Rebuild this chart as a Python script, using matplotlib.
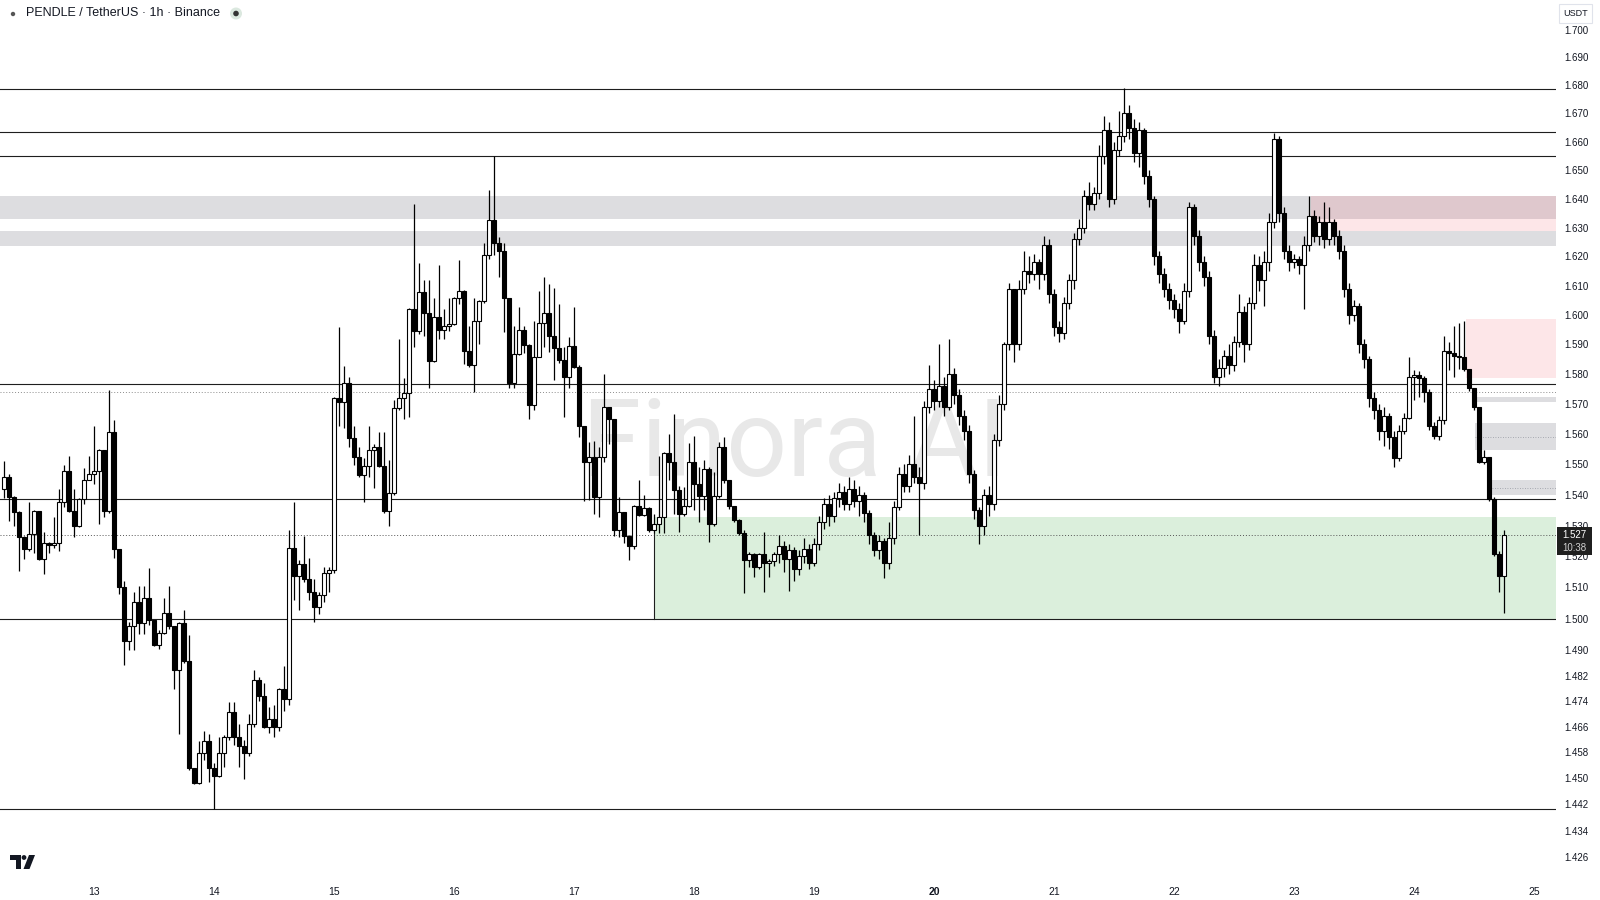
import numpy as np
import matplotlib
matplotlib.use("Agg")
import matplotlib.pyplot as plt
from matplotlib.patches import Rectangle, Ellipse, Polygon
from matplotlib.ticker import FixedLocator, FixedFormatter, NullLocator

plt.rcParams['font.family'] = ['Liberation Sans', 'DejaVu Sans']

# PENDLE / USDT, 1h candles, 12th 06:00 -> 24th 18:00
first_open = 1.542
close = [
    1.546, 1.5393, 1.5344, 1.5263, 1.5225, 1.5272, 1.5346, 1.519, 1.5243, 1.5237,
    1.5243, 1.5376, 1.5478, 1.5346, 1.5297, 1.5387, 1.5448, 1.5467, 1.5478, 1.5547,
    1.5346, 1.5607, 1.5225, 1.510, 1.493, 1.4976, 1.5053, 1.4987, 1.5066, 1.4997,
    1.4916, 1.4955, 1.5017, 1.4976, 1.4838, 1.4987, 1.4866, 1.4533, 1.4486, 1.4577,
    1.4615, 1.4533, 1.4506, 1.4577, 1.4627, 1.4706, 1.4627, 1.4600, 1.4577, 1.4668,
    1.4806, 1.4756, 1.4658, 1.4685, 1.4658, 1.4777, 1.4746, 1.5228, 1.5137, 1.5175,
    1.5126, 1.5086, 1.5036, 1.5077, 1.5147, 1.5157, 1.5719, 1.5707, 1.5769, 1.5587,
    1.5524, 1.5464, 1.5495, 1.5547, 1.5557, 1.5495, 1.5346, 1.5406, 1.5687, 1.5719,
    1.5738, 1.6019, 1.5947, 1.6079, 1.6007, 1.5845, 1.5992, 1.5949, 1.5961, 1.5971,
    1.6059, 1.6081, 1.5878, 1.5830, 1.5981, 1.6046, 1.6204, 1.6325, 1.6246, 1.6218,
    1.6059, 1.5769, 1.5869, 1.5949, 1.5898, 1.5696, 1.5859, 1.5972, 1.6007, 1.5928,
    1.5887, 1.5848, 1.5789, 1.5894, 1.5823, 1.5627, 1.5508, 1.5525, 1.5393, 1.5525,
    1.5689, 1.5649, 1.5286, 1.5344, 1.5265, 1.5233, 1.5365, 1.5335, 1.5357, 1.5284,
    1.5306, 1.5327, 1.5538, 1.5508, 1.5417, 1.5339, 1.5362, 1.5508, 1.5437, 1.5395,
    1.5486, 1.5304, 1.5395, 1.5557, 1.5448, 1.5362, 1.5317, 1.5275, 1.5188, 1.5207,
    1.5167, 1.5207, 1.5178, 1.5185, 1.5207, 1.5235, 1.519, 1.522, 1.516, 1.520,
    1.5225, 1.518, 1.524, 1.531, 1.537, 1.533, 1.539, 1.541, 1.537, 1.542,
    1.538, 1.540, 1.534, 1.527, 1.522, 1.525, 1.518, 1.526, 1.536, 1.547,
    1.543, 1.550, 1.546, 1.544, 1.569, 1.575, 1.571, 1.576, 1.569, 1.580,
    1.573, 1.566, 1.561, 1.547, 1.535, 1.530, 1.540, 1.537, 1.558, 1.570,
    1.590, 1.609, 1.590, 1.609, 1.615, 1.614, 1.618, 1.614, 1.624, 1.607,
    1.596, 1.594, 1.604, 1.612, 1.626, 1.630, 1.641, 1.638, 1.642, 1.655,
    1.664, 1.640, 1.657, 1.662, 1.670, 1.665, 1.656, 1.664, 1.648, 1.640,
    1.620, 1.614, 1.609, 1.605, 1.602, 1.598, 1.608, 1.637, 1.627, 1.618,
    1.613, 1.593, 1.579, 1.582, 1.586, 1.583, 1.591, 1.601, 1.590, 1.604,
    1.617, 1.612, 1.618, 1.632, 1.661, 1.635, 1.622, 1.618, 1.619, 1.617,
    1.624, 1.634, 1.627, 1.632, 1.626, 1.632, 1.627, 1.622, 1.609, 1.600,
    1.603, 1.590, 1.585, 1.572, 1.568, 1.561, 1.566, 1.559, 1.552, 1.561,
    1.5654, 1.5790, 1.5797, 1.5788, 1.5741, 1.5627, 1.5594, 1.5647, 1.5877, 1.5870,
    1.5862, 1.5858, 1.5817, 1.5752, 1.5689, 1.5508, 1.5524, 1.5388, 1.5207, 1.5136,
    1.527,
]
high = [
    1.551, 1.547, 1.5395, 1.5346, 1.5265, 1.5377, 1.535, 1.5346, 1.528, 1.5245,
    1.5327, 1.5418, 1.5498, 1.5527, 1.5418, 1.539, 1.5487, 1.5527, 1.5626, 1.555,
    1.5547, 1.5747, 1.5648, 1.5225, 1.512, 1.499, 1.5085, 1.5106, 1.5106, 1.5164,
    1.4997, 1.4963, 1.5066, 1.5106, 1.4976, 1.4990, 1.5027, 1.4947, 1.4533, 1.4615,
    1.4646, 1.4637, 1.4546, 1.4627, 1.4634, 1.4736, 1.4736, 1.4668, 1.4619, 1.4699,
    1.4838, 1.4816, 1.4796, 1.4722, 1.4727, 1.4780, 1.4849, 1.5287, 1.5377, 1.5188,
    1.5265, 1.5196, 1.5126, 1.5086, 1.5167, 1.5167, 1.5722, 1.5960, 1.5828, 1.5790,
    1.5627, 1.5557, 1.5520, 1.5627, 1.5568, 1.5607, 1.5607, 1.5514, 1.5713, 1.5918,
    1.5788, 1.6025, 1.6381, 1.6179, 1.6120, 1.6120, 1.6059, 1.6170, 1.6019, 1.6059,
    1.6062, 1.6188, 1.6085, 1.5961, 1.6059, 1.6050, 1.6246, 1.6430, 1.6548, 1.6267,
    1.6246, 1.6049, 1.5961, 1.6028, 1.5961, 1.5900, 1.5981, 1.6081, 1.6128, 1.6105,
    1.6092, 1.6038, 1.5891, 1.5926, 1.6026, 1.5830, 1.5627, 1.5574, 1.5578, 1.5557,
    1.5800, 1.5690, 1.5650, 1.5393, 1.5344, 1.5270, 1.5368, 1.5448, 1.5400, 1.5360,
    1.5339, 1.5527, 1.5540, 1.5602, 1.5668, 1.5428, 1.5426, 1.5571, 1.5593, 1.5492,
    1.5516, 1.5490, 1.5476, 1.5574, 1.5591, 1.5450, 1.5365, 1.5320, 1.5286, 1.5215,
    1.5210, 1.5210, 1.5278, 1.5190, 1.5215, 1.527, 1.525, 1.524, 1.523, 1.522,
    1.526, 1.524, 1.526, 1.533, 1.539, 1.540, 1.541, 1.544, 1.543, 1.546,
    1.545, 1.543, 1.541, 1.535, 1.528, 1.527, 1.526, 1.531, 1.538, 1.549,
    1.550, 1.553, 1.566, 1.549, 1.571, 1.583, 1.578, 1.590, 1.579, 1.592,
    1.582, 1.575, 1.568, 1.563, 1.548, 1.536, 1.542, 1.543, 1.560, 1.573,
    1.591, 1.611, 1.608, 1.612, 1.622, 1.620, 1.621, 1.619, 1.627, 1.626,
    1.609, 1.598, 1.606, 1.614, 1.628, 1.633, 1.643, 1.646, 1.644, 1.659,
    1.669, 1.667, 1.660, 1.671, 1.679, 1.673, 1.668, 1.667, 1.665, 1.650,
    1.641, 1.622, 1.616, 1.611, 1.607, 1.604, 1.611, 1.639, 1.638, 1.629,
    1.620, 1.615, 1.595, 1.585, 1.588, 1.590, 1.593, 1.607, 1.603, 1.606,
    1.621, 1.620, 1.622, 1.635, 1.663, 1.662, 1.637, 1.624, 1.621, 1.620,
    1.627, 1.641, 1.636, 1.634, 1.639, 1.637, 1.633, 1.629, 1.624, 1.611,
    1.605, 1.604, 1.592, 1.586, 1.574, 1.570, 1.569, 1.567, 1.561, 1.563,
    1.567, 1.5859, 1.5814, 1.5810, 1.5795, 1.575, 1.564, 1.566, 1.5928, 1.5909,
    1.5961, 1.5972, 1.5981, 1.5815, 1.5755, 1.569, 1.5547, 1.5525, 1.5392, 1.5217,
    1.5285,
]
low = [
    1.539, 1.5316, 1.530, 1.5154, 1.519, 1.5217, 1.5212, 1.5187, 1.5142, 1.5212,
    1.5228, 1.5217, 1.536, 1.5344, 1.5264, 1.5295, 1.5371, 1.5452, 1.5437, 1.5305,
    1.5327, 1.5340, 1.5195, 1.508, 1.4853, 1.490, 1.490, 1.495, 1.495, 1.498,
    1.4913, 1.4905, 1.4950, 1.4966, 1.4778, 1.4637, 1.4860, 1.4525, 1.4484, 1.4484,
    1.4556, 1.4489, 1.4405, 1.4504, 1.4535, 1.4619, 1.4603, 1.4535, 1.4499, 1.4570,
    1.4660, 1.4740, 1.4655, 1.4639, 1.4629, 1.4645, 1.4709, 1.4727, 1.5059, 1.5029,
    1.5118, 1.5059, 1.4990, 1.5016, 1.5054, 1.5086, 1.5145, 1.5627, 1.5619, 1.5557,
    1.5497, 1.5457, 1.5377, 1.5459, 1.5421, 1.5490, 1.5340, 1.5300, 1.5400, 1.5679,
    1.5651, 1.5657, 1.5891, 1.5935, 1.5928, 1.5752, 1.5840, 1.5918, 1.5918, 1.5946,
    1.5965, 1.6038, 1.5834, 1.5825, 1.5739, 1.5902, 1.6040, 1.6191, 1.6204, 1.6131,
    1.5941, 1.5752, 1.5752, 1.5865, 1.5872, 1.5651, 1.5679, 1.5860, 1.5893, 1.5873,
    1.5779, 1.5837, 1.5657, 1.5752, 1.5820, 1.5591, 1.5380, 1.5382, 1.5339, 1.5327,
    1.5508, 1.5568, 1.5265, 1.5263, 1.5242, 1.5188, 1.5225, 1.5330, 1.5330, 1.5280,
    1.5275, 1.5275, 1.5275, 1.5450, 1.5339, 1.5278, 1.5330, 1.5360, 1.5349, 1.5311,
    1.5349, 1.5247, 1.5300, 1.5390, 1.5440, 1.5355, 1.5310, 1.5270, 1.5081, 1.5167,
    1.5134, 1.5160, 1.5086, 1.5134, 1.5170, 1.518, 1.515, 1.509, 1.512, 1.514,
    1.518, 1.516, 1.517, 1.522, 1.529, 1.530, 1.531, 1.536, 1.535, 1.535,
    1.536, 1.533, 1.531, 1.524, 1.520, 1.519, 1.513, 1.516, 1.524, 1.535,
    1.541, 1.541, 1.544, 1.527, 1.542, 1.567, 1.568, 1.569, 1.566, 1.568,
    1.570, 1.563, 1.558, 1.544, 1.532, 1.524, 1.527, 1.533, 1.535, 1.556,
    1.568, 1.588, 1.584, 1.588, 1.607, 1.611, 1.612, 1.609, 1.612, 1.604,
    1.593, 1.591, 1.592, 1.602, 1.609, 1.624, 1.628, 1.636, 1.636, 1.640,
    1.652, 1.637, 1.638, 1.655, 1.660, 1.661, 1.653, 1.651, 1.645, 1.637,
    1.617, 1.611, 1.606, 1.602, 1.599, 1.594, 1.597, 1.606, 1.624, 1.615,
    1.610, 1.590, 1.577, 1.576, 1.579, 1.580, 1.581, 1.589, 1.584, 1.588,
    1.602, 1.608, 1.603, 1.615, 1.630, 1.632, 1.619, 1.615, 1.616, 1.614,
    1.602, 1.622, 1.625, 1.624, 1.623, 1.624, 1.624, 1.619, 1.606, 1.597,
    1.598, 1.587, 1.582, 1.569, 1.565, 1.558, 1.556, 1.555, 1.549, 1.551,
    1.560, 1.5650, 1.5713, 1.5724, 1.5707, 1.5613, 1.5585, 1.558, 1.5635, 1.5814,
    1.5791, 1.5819, 1.581, 1.5745, 1.568, 1.5505, 1.5500, 1.538, 1.520, 1.5086,
    1.5018,
]
# every hourly bar opens where the previous one closed
opens = [first_open] + close[:-1]

day_labels = ['13', '14', '15', '16', '17', '18', '19', '20', '21', '22', '23', '24', '25']
first_day_bar = 18          # bar index of the 13th 00:00
price_ticks = [1.700, 1.690, 1.680, 1.670, 1.660, 1.650, 1.640, 1.630, 1.620, 1.610,
               1.600, 1.590, 1.580, 1.570, 1.560, 1.550, 1.540, 1.530, 1.520, 1.510,
               1.500, 1.490, 1.482, 1.474, 1.466, 1.458, 1.450, 1.442, 1.434, 1.426]

levels = [1.6787, 1.6633, 1.6549, 1.5768, 1.5388, 1.5000, 1.4405]
dotted_level = 1.5741
last_price = 1.527
gray_bands = [(1.6331, 1.6410), (1.6235, 1.6288)]
demand_zone = (1.5000, 1.5329)
demand_start = 130
supply_zones = [(261.4, 1.6288, 1.6408), (292.4, 1.5787, 1.5985)]
small_zones = [(293.6, 1.5708, 1.5722, None), (294.2, 1.5549, 1.5637, 1.5590),
               (296.6, 1.5400, 1.5448, 1.5424)]

W, H = 1600, 900
fig = plt.figure(figsize=(16, 9), dpi=100)
fig.patch.set_facecolor('white')
ax_bottom = 874
ax = fig.add_axes([0, (H - ax_bottom) / H, 1556 / W, ax_bottom / H])
ax.set_facecolor('white')

o = np.array(opens)
c = np.array(close)
hi = np.maximum(np.array(high), np.maximum(o, c))
lo = np.minimum(np.array(low), np.minimum(o, c))
x = np.arange(len(c))
up = c >= o

ax.set_yscale('log')
ax.set_xlim(-0.78, 310.4)
ax.set_ylim(1.42082, 1.71073)

# zones
for p0, p1 in gray_bands:
    ax.axhspan(p0, p1, color=(120/255, 123/255, 134/255), alpha=0.25, lw=0, zorder=1)
ax.add_patch(Rectangle((demand_start, demand_zone[0]), 400, demand_zone[1] - demand_zone[0],
                       facecolor=(76/255, 175/255, 80/255), alpha=0.2, lw=0, zorder=1))
for x0, p0, p1 in supply_zones:
    ax.add_patch(Rectangle((x0, p0), 400, p1 - p0, facecolor=(242/255, 54/255, 69/255),
                           alpha=0.12, lw=0, zorder=1))
for x0, p0, p1, mid in small_zones:
    ax.add_patch(Rectangle((x0, p0), 400, p1 - p0, facecolor=(120/255, 123/255, 134/255),
                           alpha=0.25, lw=0, zorder=1))
    if mid is not None:
        ax.plot([x0, 311], [mid, mid], color='#9598a1', lw=0.6, ls=(0, (1, 2)), zorder=1.5)

# levels
for lv in levels:
    ax.axhline(lv, color='#1e1e1e', lw=0.8, zorder=2)
ax.axhline(dotted_level, color='#8c8c8c', lw=0.7, ls=(0, (1, 2)), zorder=2)
ax.axhline(last_price, color='#555555', lw=0.7, ls=(0, (1, 2)), zorder=2)
ax.plot([demand_start, demand_start], [demand_zone[0], lo[demand_start]], color='#1e1e1e',
        lw=0.8, zorder=2)

# watermark
ax.text(795 / W, 1 - 447 / H, 'Finora AI', transform=fig.transFigure, fontsize=77,
        family='Roboto', color='#e8e8e8', ha='center', va='center', zorder=0.5)

# candles
bw = 0.68
ax.vlines(x, lo, hi, color='black', lw=0.9, zorder=3)
bot = np.minimum(o, c)
hgt = np.maximum(np.abs(c - o), 0.0004)
ax.bar(x[up], hgt[up], bottom=bot[up], width=bw, facecolor='white', edgecolor='black',
       linewidth=0.8, zorder=4)
ax.bar(x[~up], hgt[~up], bottom=bot[~up], width=bw, facecolor='black', edgecolor='black',
       linewidth=0.8, zorder=4)

# axes
for s in ax.spines.values():
    s.set_visible(False)
ax.yaxis.tick_right()
ax.yaxis.set_major_locator(FixedLocator(price_ticks))
ax.yaxis.set_major_formatter(FixedFormatter(['%.3f' % p for p in price_ticks]))
ax.yaxis.set_minor_locator(NullLocator())
ax.tick_params(axis='y', length=0, pad=6, labelsize=7, labelcolor='#131722')
day_pos = [first_day_bar + 24 * k for k in range(len(day_labels))]
ax.set_xticks(day_pos)
ax.set_xticklabels(day_labels)
ax.tick_params(axis='x', length=0, pad=9.5, labelsize=7.5, labelcolor='#131722')
for lab in ax.get_xticklabels():
    if lab.get_text() == '20':
        lab.set_fontweight('bold')


def fp(px, py):
    return px / W, 1 - py / H


def dot(px, py, r, color):
    fig.patches.append(Ellipse(fp(px, py), 2 * r / W, 2 * r / H, transform=fig.transFigure,
                               facecolor=color, edgecolor='none'))


# price box on the scale
bx0, by0 = fp(1557, 555)
fig.patches.append(Rectangle((bx0, by0), 35 / W, 28 / H, transform=fig.transFigure,
                             facecolor='#1f1f1f', edgecolor='none', zorder=5))
fig.text(*fp(1574.5, 535), '%.3f' % last_price, color='white', fontsize=7, ha='center',
         va='center', zorder=6)
fig.text(*fp(1574.5, 548), '10:38', color='#d0d0d0', fontsize=7, ha='center', va='center',
         zorder=6)

# currency box
ux0, uy0 = fp(1559, 23)
fig.patches.append(Rectangle((ux0, uy0), 33 / W, 19 / H, transform=fig.transFigure,
                             facecolor='white', edgecolor='#e0e3eb', lw=0.8, zorder=5))
fig.text(*fp(1575.5, 13.5), 'USDT', color='#131722', fontsize=6.5, ha='center',
         va='center', zorder=6)

# title
fig.text(*fp(25.5, 13.5), 'PENDLE / TetherUS · 1h · Binance', color='#131722',
         fontsize=9, ha='left', va='center')
dot(13, 14, 2.2, '#555555')
dot(236, 13.5, 6, '#dbe8df')
dot(236, 13.5, 2.8, '#333333')

# tradingview logo
logo = '#131722'
fig.patches.append(Polygon([fp(10, 855), fp(20.5, 855), fp(20.5, 869), fp(15.5, 869),
                            fp(15.5, 859.5), fp(10, 859.5)], closed=True,
                           transform=fig.transFigure, facecolor=logo, edgecolor='none'))
dot(24, 857.5, 2.4, logo)
fig.patches.append(Polygon([fp(29, 855), fp(35, 855), fp(29.5, 869), fp(23.5, 869)],
                           closed=True, transform=fig.transFigure, facecolor=logo,
                           edgecolor='none'))

fig.savefig('out.png', dpi=100, facecolor='white')
